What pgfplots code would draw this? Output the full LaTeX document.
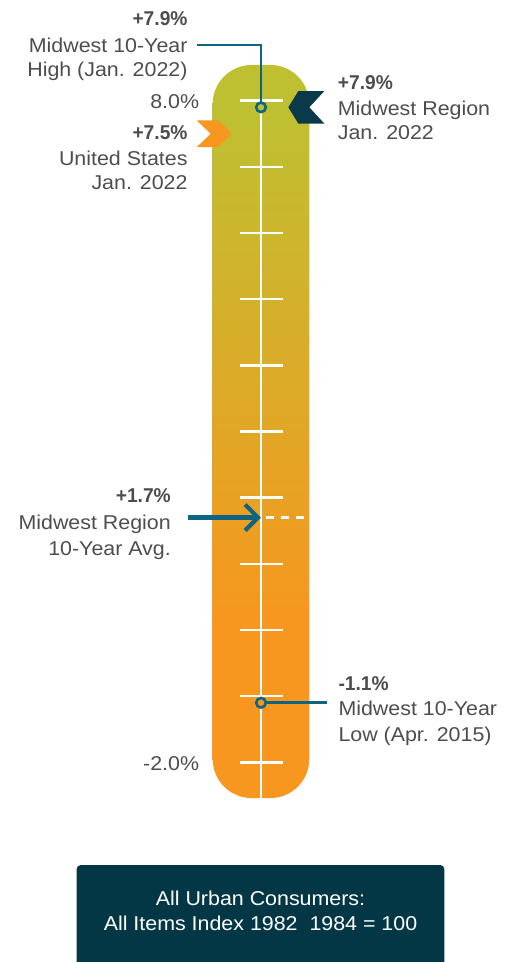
\documentclass[border=0pt]{standalone}
\usepackage{pgfplots}
\pgfplotsset{compat=1.18}
\usepackage{fontspec}
\setmainfont{Liberation Sans}[FakeStretch=1.07, BoldFeatures={FakeStretch=0.96}]
\usetikzlibrary{arrows.meta}
\definecolor{tLime}{RGB}{190,192,50}
\definecolor{tOrange}{RGB}{247,151,31}
\definecolor{tTeal}{RGB}{14,100,130}
\definecolor{tNavy}{RGB}{10,58,74}
\definecolor{tBox}{RGB}{4,55,70}
\definecolor{tText}{RGB}{77,77,77}
\pgfdeclareverticalshading{thermo}{100bp}{color(0bp)=(tOrange); color(37bp)=(tOrange); color(72bp)=(tLime); color(100bp)=(tLime)}
\pgfdeclareplotmark{chevL}{%
  \pgfpathmoveto{\pgfpoint{0bp}{0bp}}%
  \pgfpathlineto{\pgfpoint{10bp}{16.2bp}}%
  \pgfpathlineto{\pgfpoint{36bp}{16.2bp}}%
  \pgfpathlineto{\pgfpoint{21bp}{0bp}}%
  \pgfpathlineto{\pgfpoint{36bp}{-16.2bp}}%
  \pgfpathlineto{\pgfpoint{10bp}{-16.2bp}}%
  \pgfpathclose\pgfusepathqfill}
\pgfdeclareplotmark{chevR}{%
  \pgfpathmoveto{\pgfpoint{0bp}{0bp}}%
  \pgfpathlineto{\pgfpoint{-13.4bp}{13.4bp}}%
  \pgfpathlineto{\pgfpoint{-35bp}{13.4bp}}%
  \pgfpathlineto{\pgfpoint{-21bp}{0bp}}%
  \pgfpathlineto{\pgfpoint{-35bp}{-13.4bp}}%
  \pgfpathlineto{\pgfpoint{-13.4bp}{-13.4bp}}%
  \pgfpathclose\pgfusepathqfill}
\tikzset{
  lab/.style={text=tText, inner sep=0pt, font=\fontsize{20bp}{25bp}\selectfont},
  blab/.style={text=tText, inner sep=0pt, font=\fontsize{20bp}{25bp}\selectfont\bfseries},
}
\begin{document}
\begin{tikzpicture}
\begin{axis}[
  width=514bp, height=962bp, scale only axis,
  xmin=0, xmax=514, ymin=-5.018, ymax=9.522,
  hide axis, clip=false,
]
\path (rel axis cs:0,0) rectangle (rel axis cs:1,1);
% thermometer body
\shade[shading=thermo, rounded corners=39bp] (axis cs:212.7,-2.540) rectangle (axis cs:309.3,8.540);
% tick marks
\pgfplotsinvokeforeach{-2,...,8}{
  \draw[white, line width=2.4bp] (axis cs:240,#1) -- (axis cs:282.7,#1);
}
% center line
\addplot[white, line width=2.2bp, forget plot] coordinates {(261,7.9) (261,-2.540)};
% average dashed line
\addplot[white, line width=2.4bp, dash pattern=on 8bp off 7bp, forget plot] coordinates {(266,1.7) (309.3,1.7)};
% leader lines
\addplot[tTeal, line width=2.6bp, forget plot] coordinates {(197.3,8.842) (261,8.842) (261,7.9)};
\addplot[tTeal, line width=2.6bp, forget plot] coordinates {(261,-1.1) (326.7,-1.1)};
% high / low markers
\addplot[only marks, mark=*, mark size=4.8bp, mark options={draw=tTeal, fill=tLime, line width=2.6bp}] coordinates {(261,7.9)};
\addplot[only marks, mark=*, mark size=4.8bp, mark options={draw=tTeal, fill=tOrange, line width=2.6bp}] coordinates {(261,-1.1)};
% average arrow
\addplot[tTeal, line width=4.2bp, -{Straight Barb[length=13bp,width=26bp]}] coordinates {(188,1.7) (261,1.7)};
% chevrons
\addplot[only marks, mark=chevL, tNavy, mark options={fill=tNavy}] coordinates {(288.3,7.9)};
\addplot[only marks, mark=chevR, tOrange, mark options={fill=tOrange}] coordinates {(231.7,7.5)};
% texts
\node[anchor=base east, blab] at (axis cs:187.7,9.134) {+7.9\%};
\node[anchor=base east, lab] at (axis cs:187.7,8.7316) {Midwest 10-Year};
\node[anchor=base east, lab] at (axis cs:187.7,8.3628) {High (Jan. 2022)};
\node[anchor=base east, lab] at (axis cs:199.3,7.8745) {8.0\%};
\node[anchor=base east, blab] at (axis cs:187.7,7.4166) {+7.5\%};
\node[anchor=base east, lab] at (axis cs:187.7,7.0175) {United States};
\node[anchor=base east, lab] at (axis cs:187.7,6.6503) {Jan. 2022};
\node[anchor=base west, blab] at (axis cs:337.7,8.1617) {+7.9\%};
\node[anchor=base west, lab] at (axis cs:337.7,7.7733) {Midwest Region};
\node[anchor=base west, lab] at (axis cs:337.7,7.406) {Jan. 2022};
\node[anchor=base east, blab] at (axis cs:171,1.9238) {+1.7\%};
\node[anchor=base east, lab] at (axis cs:171,1.5263) {Midwest Region};
\node[anchor=base east, lab] at (axis cs:171,1.1333) {10-Year Avg.};
\node[anchor=base west, blab] at (axis cs:338.3,-0.9072) {-1.1\%};
\node[anchor=base west, lab] at (axis cs:338.3,-1.2851) {Midwest 10-Year};
\node[anchor=base west, lab] at (axis cs:338.3,-1.6886) {Low (Apr. 2015)};
\node[anchor=base east, lab] at (axis cs:199.3,-2.1164) {-2.0\%};
% footer box
\fill[tBox] (axis cs:76.7,-5.018) [rounded corners=4bp] -- (axis cs:76.7,-3.552) -- (axis cs:444.3,-3.552) [sharp corners] -- (axis cs:444.3,-5.018) -- cycle;
\node[anchor=base, lab, text=white] at (axis cs:260.5,-4.159) {All Urban Consumers:};
\node[anchor=base, lab, text=white] at (axis cs:260.5,-4.537) {All Items Index 1982\ \ 1984 = 100};
\end{axis}
\end{tikzpicture}
\end{document}
